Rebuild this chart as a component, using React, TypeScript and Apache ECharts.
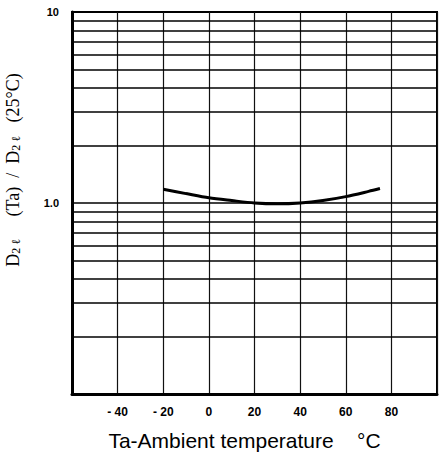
import React, { useEffect, useRef } from "react";
import * as echarts from "echarts";

const temps = [-20, -10, 0, 10, 20, 30, 40, 50, 60, 70, 75];
const ratio = [1.18, 1.12, 1.065, 1.03, 1.0, 0.99, 1.0, 1.03, 1.08, 1.15, 1.19];
const xTickLabels = ["-40", "-20", "0", "20", "40", "60", "80"];
const yTickLabels: Record<string, string> = { "10": "10", "1": "1.0" };
const minorGridValues = [0.2, 0.3, 0.4, 0.5, 0.6, 0.7, 0.8, 0.9, 1, 2, 3, 4, 5, 6, 7, 8, 9];

export default function App() {
  const ref = useRef<HTMLDivElement>(null);
  useEffect(() => {
    document.body.style.margin = "0";
    const chart = echarts.init(ref.current!, undefined, { renderer: "svg" });
    chart.setOption({
      animation: false,
      backgroundColor: "#ffffff",
      grid: {
        left: 72,
        top: 12,
        bottom: 63,
        right: -2,
        show: true,
        borderColor: "#000",
        borderWidth: 2,
        backgroundColor: "transparent",
      },
      xAxis: {
        type: "value",
        min: -60,
        max: 100,
        interval: 20,
        axisLine: { show: true, onZero: false, lineStyle: { color: "#000", width: 3 } },
        axisTick: { show: false },
        splitLine: { show: true, lineStyle: { color: "#111", width: 1.2 } },
        axisLabel: {
          color: "#000",
          fontFamily: "Liberation Sans, Arial, sans-serif",
          fontSize: 12,
          fontWeight: "bold",
          margin: 12,
          formatter: (v: number) => (xTickLabels.includes(String(v)) ? String(v).replace("-", "- ") : ""),
        },
        name: "Ta-Ambient temperature    °C",
        nameLocation: "middle",
        nameGap: 36,
        nameTextStyle: {
          color: "#000",
          fontFamily: "Liberation Sans, Arial, sans-serif",
          fontSize: 21,
          padding: [0, 20, 0, 0],
        },
      },
      yAxis: {
        type: "log",
        logBase: 10,
        min: 0.1,
        max: 10,
        axisLine: { show: true, onZero: false, lineStyle: { color: "#000", width: 3 } },
        axisTick: { show: false },
        splitLine: { show: false },
        minorTick: { show: false },
        minorSplitLine: { show: false },
        axisLabel: {
          color: "#000",
          fontFamily: "Liberation Sans, Arial, sans-serif",
          fontSize: 11,
          fontWeight: "bold",
          margin: 13,
          formatter: (v: number) => yTickLabels[String(v)] ?? "",
        },
      },
      graphic: [
        {
          type: "text",
          x: 12,
          y: 170,
          rotation: Math.PI / 2,
          style: {
            text: "{m|D}{s|2 ℓ}{m|     (Ta)  /  D}{s|2 ℓ}{m|   (25°C)}",
            align: "center",
            verticalAlign: "middle",
            fill: "#000",
            rich: {
              m: { fontFamily: "Liberation Serif, serif", fontSize: 18, fill: "#000", verticalAlign: "bottom", lineHeight: 20 },
              s: { fontFamily: "Liberation Serif, serif", fontSize: 12, fill: "#000", verticalAlign: "bottom", lineHeight: 15 },
            },
          },
        },
      ],
      series: [
        {
          type: "line",
          data: temps.map((t, i) => [t, ratio[i]]),
          showSymbol: false,
          smooth: 0.3,
          lineStyle: { color: "#000", width: 3 },
          silent: true,
          markLine: {
            silent: true,
            symbol: "none",
            label: { show: false },
            lineStyle: { color: "#000", width: 1.6, type: "solid" },
            data: minorGridValues.map((v) => ({ yAxis: v })),
          },
          z: 3,
        },
      ],
    });
    return () => chart.dispose();
  }, []);
  return <div ref={ref} style={{ width: 440, height: 457 }} />;
}
